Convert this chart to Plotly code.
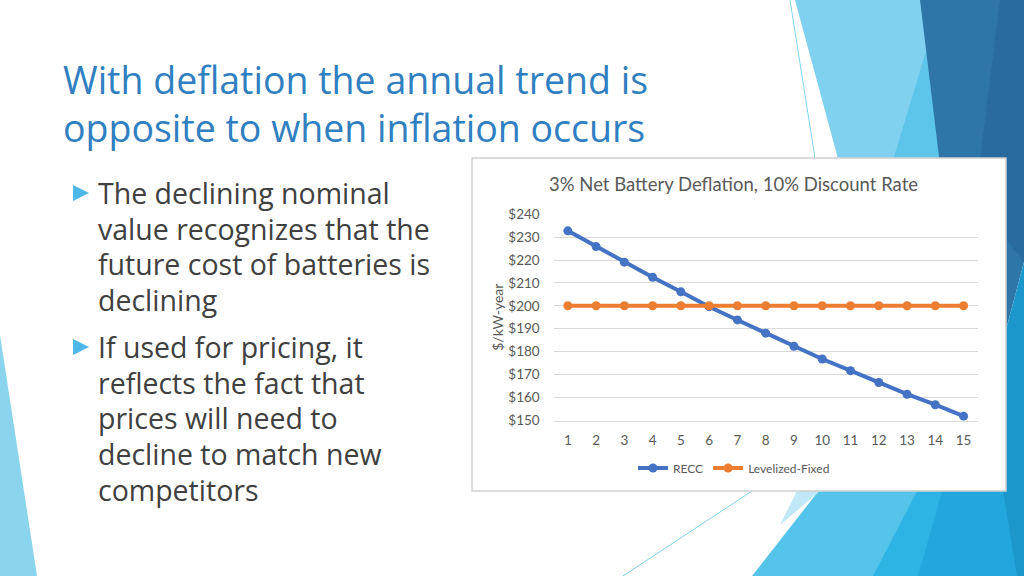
import plotly.graph_objects as go

# ---- data ----
years = list(range(1, 16))
recc = [232.8, 225.9, 219.1, 212.5, 206.1, 199.6, 193.8, 188.0, 182.3, 176.7, 171.6, 166.4, 161.3, 156.7, 151.7]
levelized = [200] * 15
series_names = ["RECC", "Levelized-Fixed"]
chart_title = "3% Net Battery Deflation, 10% Discount Rate"
y_title = "$/kW-year"
slide_title = ["With deflation the annual trend is", "opposite to when inflation occurs"]
bullet1 = ["The declining nominal", "value recognizes that the", "future cost of batteries is", "declining"]
bullet2 = ["If used for pricing, it", "reflects the fact that", "prices will need to", "decline to match new", "competitors"]

W, H = 1024, 576


def X(px):
    return px / W


def Y(py):
    return 1 - py / H


def poly(pts, color, line=None, width=0):
    d = "M " + " L ".join(f"{X(a):.5f},{Y(b):.5f}" for a, b in pts) + " Z"
    return dict(type="path", xref="paper", yref="paper", path=d, fillcolor=color,
                line=dict(color=line or color, width=width), layer="below")


shapes = [
    # top-right decorations
    poly([(795, 0), (922, 0), (960, 240), (860, 240)], "#80D0F0"),
    poly([(928, 45), (890, 170), (950, 170)], "#5EC5EA"),
    poly([(920, 0), (1024, 0), (1024, 262), (1006, 330), (960, 330)], "#2E76A7"),
    poly([(1000, 0), (1024, 0), (1024, 262), (975, 200)], "#2A6B9F"),
    # bottom-right decorations
    poly([(752, 576), (835, 470), (1024, 470), (1024, 576)], "#55C4EA"),
    poly([(873, 576), (928, 470), (1024, 470), (1024, 576)], "#2DB4E4"),
    poly([(918, 576), (948, 470), (1024, 470), (1024, 576)], "#22A6DC"),
    poly([(1024, 262), (1006, 330), (1003, 491), (1017, 576), (1024, 576)], "#1C97CC"),
    poly([(797, 491), (820, 491), (780, 525)], "#C0E8F7"),
    # thin lines
    dict(type="line", xref="paper", yref="paper", x0=X(790), y0=Y(0), x1=X(815), y1=Y(158),
         line=dict(color="#7FD3F0", width=1), layer="below"),
    dict(type="line", xref="paper", yref="paper", x0=X(752), y0=Y(491), x1=X(623), y1=Y(576),
         line=dict(color="#7FD3F0", width=1), layer="below"),
    # bottom-left decoration
    poly([(0, 335), (37, 576), (0, 576)], "#8AD4EE"),
    # chart box
    dict(type="rect", xref="paper", yref="paper", x0=X(472), y0=Y(491), x1=X(1006), y1=Y(158),
         fillcolor="white", line=dict(color="#D0D0D0", width=1.5), layer="below"),
]

# bullet triangles
for cy in (193, 347):
    shapes.append(poly([(73, cy - 8), (89, cy), (73, cy + 8)], "#4DB8E8"))

annotations = []
for i, t in enumerate(slide_title):
    annotations.append(dict(text=t, x=X(61), y=Y(80 + 47 * i), xref="paper", yref="paper",
                            xanchor="left", yanchor="middle", showarrow=False,
                            font=dict(family="Open Sans", size=37.5, color="#2F7FC1")))
for lines, y0 in ((bullet1, 193), (bullet2, 347)):
    for i, t in enumerate(lines):
        annotations.append(dict(text=t, x=X(96), y=Y(y0 + 35.7 * i), xref="paper", yref="paper",
                                xanchor="left", yanchor="middle", showarrow=False,
                                font=dict(family="Open Sans", size=28.5, color="#404040")))
annotations.append(dict(text=chart_title, x=X(733), y=Y(184), xref="paper", yref="paper",
                        xanchor="center", yanchor="middle", showarrow=False,
                        font=dict(family="Lato", size=18.5, color="#595959")))

fig = go.Figure()
fig.add_trace(go.Scatter(x=years, y=recc, name=series_names[0], mode="lines+markers",
                         line=dict(color="#4472C4", width=4), marker=dict(size=9, color="#4472C4")))
fig.add_trace(go.Scatter(x=years, y=levelized, name=series_names[1], mode="lines+markers",
                         line=dict(color="#ED7D31", width=4), marker=dict(size=9, color="#ED7D31")))

fig.update_layout(
    width=W, height=H, autosize=False,
    margin=dict(l=0, r=0, t=0, b=0, pad=0, autoexpand=False),
    paper_bgcolor="white", plot_bgcolor="rgba(0,0,0,0)",
    shapes=shapes, annotations=annotations,
    showlegend=True,
    legend=dict(orientation="h", x=X(734), y=Y(468), xanchor="center", yanchor="middle",
                font=dict(family="Lato", size=12, color="#595959"), bgcolor="rgba(0,0,0,0)"),
    xaxis=dict(domain=[X(553.7), X(977.7)], range=[0.5, 15.5], tickmode="array", tickvals=years,
               automargin=False,
               showgrid=False, zeroline=False, showline=True, linecolor="#D9D9D9", linewidth=1,
               ticks="", tickfont=dict(family="Lato", size=13.5, color="#595959"),
               ticklabelstandoff=7),
    yaxis=dict(domain=[Y(420.7), Y(213.7)], range=[149.7, 240.3], dtick=10, tick0=150,
               automargin=False,
               tickprefix="$", showgrid=True, gridcolor="#D9D9D9", gridwidth=1, zeroline=False,
               ticks="", tickfont=dict(family="Lato", size=13.5, color="#595959"),
               ticklabelstandoff=13,
               title=dict(text=y_title, standoff=1, font=dict(family="Lato", size=14, color="#595959"))),
)

fig.write_html("out.html", config={"displayModeBar": False, "responsive": False},
               post_script="document.body.style.margin='0';document.body.style.overflow='hidden';")
